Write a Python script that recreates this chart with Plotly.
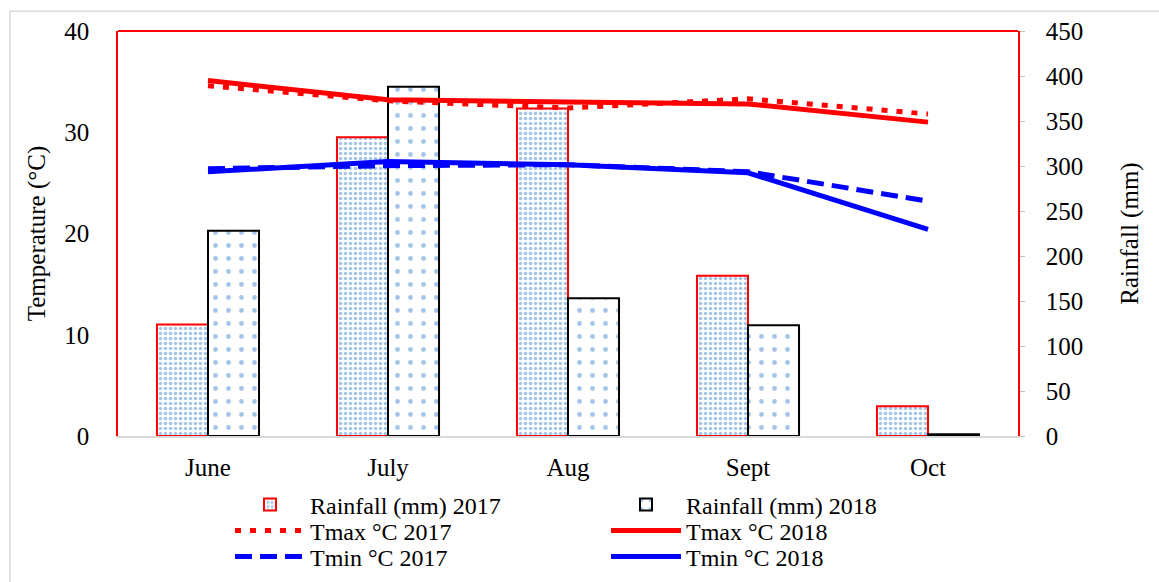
import plotly.graph_objects as go

months = ["June", "July", "Aug", "Sept", "Oct"]
rain_2017 = [124, 332, 364, 178, 33]
rain_2018 = [228, 388, 153, 123, 2]
tmax_2017 = [34.6, 33.1, 32.4, 33.3, 31.8]
tmax_2018 = [35.1, 33.2, 33.0, 32.8, 31.0]
tmin_2017 = [26.4, 26.7, 26.8, 26.1, 23.2]
tmin_2018 = [26.1, 27.1, 26.8, 26.0, 20.4]

FONT = "Liberation Serif"
fig = go.Figure()

fig.add_trace(go.Bar(x=months, y=rain_2017, name="Rainfall (mm) 2017", yaxis="y", legend="legend",
                     marker=dict(color="white", line=dict(color="red", width=2),
                                 pattern=dict(shape=".", fgcolor="#4A8CD0", bgcolor="white",
                                              size=5, solidity=0.4))))
fig.add_trace(go.Bar(x=months, y=rain_2018, name="Rainfall (mm) 2018", yaxis="y", legend="legend",
                     marker=dict(color="white", line=dict(color="black", width=2),
                                 pattern=dict(shape=".", fgcolor="#4A8CD0", bgcolor="white",
                                              size=13, solidity=0.11))))
fig.add_trace(go.Scatter(x=months, y=tmax_2017, name="Tmax °C 2017", yaxis="y2", mode="lines",
                         legend="legend2", line=dict(color="red", width=5, dash="6px,9px")))
fig.add_trace(go.Scatter(x=months, y=tmax_2018, name="Tmax °C 2018", yaxis="y2", mode="lines",
                         legend="legend2", line=dict(color="red", width=5)))
fig.add_trace(go.Scatter(x=months, y=tmin_2017, name="Tmin °C 2017", yaxis="y2", mode="lines",
                         legend="legend3", line=dict(color="blue", width=5, dash="17px,8px")))
fig.add_trace(go.Scatter(x=months, y=tmin_2018, name="Tmin °C 2018", yaxis="y2", mode="lines",
                         legend="legend3", line=dict(color="blue", width=5)))

def leg(ypx):
    return dict(orientation="h", xref="container", yref="container",
                x=230 / 1159, xanchor="left", y=1 - ypx / 582, yanchor="middle",
                entrywidth=291, entrywidthmode="pixels", itemwidth=70,
                font=dict(family=FONT, size=24), bgcolor="rgba(0,0,0,0)",
                traceorder="normal")

fig.update_layout(
    width=1159, height=582,
    margin=dict(l=118, r=141, t=31, b=146, autoexpand=False),
    paper_bgcolor="white", plot_bgcolor="white",
    font=dict(family=FONT, size=25, color="black"),
    barmode="group", bargap=0.433, bargroupgap=0,
    showlegend=True,
    legend=leg(505), legend2=leg(531), legend3=leg(557),
    xaxis=dict(showgrid=False, showline=True, linecolor="#d9d9d9", linewidth=2,
               ticks="", ticklabelstandoff=8, tickfont=dict(family=FONT, size=25)),
    yaxis=dict(side="right", range=[0, 450], dtick=50, showgrid=False, zeroline=False,
               showline=True, linecolor="red", linewidth=1.5,
               ticks="outside", ticklen=5, tickcolor="#bfbfbf", ticklabelstandoff=16,
               title=dict(text="Rainfall (mm)", standoff=38, font=dict(family=FONT, size=25)),
               tickfont=dict(family=FONT, size=25)),
    yaxis2=dict(side="left", overlaying="y", range=[0, 40], dtick=10, showgrid=False,
                zeroline=False, showline=True, linecolor="red", linewidth=1.5,
                ticks="", ticklabelstandoff=22,
                title=dict(text="Temperature (°C)", standoff=12, font=dict(family=FONT, size=25)),
                tickfont=dict(family=FONT, size=25)),
    shapes=[
        dict(type="line", xref="paper", yref="paper", x0=0, x1=1, y0=1, y1=1,
             line=dict(color="red", width=2)),
        dict(type="rect", xref="paper", yref="paper", x0=-0.12, x1=1.2, y0=1.049, y1=-0.5,
             line=dict(color="#d9d9d9", width=1.5)),
    ],
)

fig.write_html("out.html")
